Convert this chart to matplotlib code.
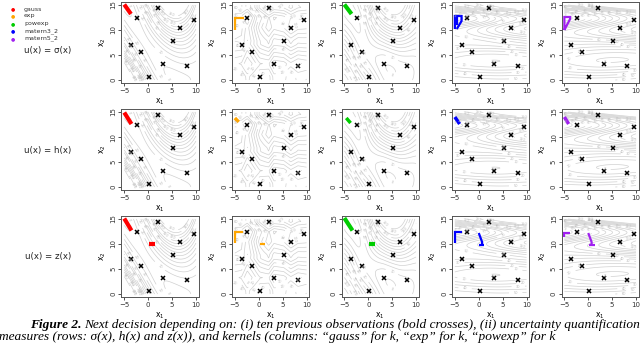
import numpy as np
import matplotlib.pyplot as plt

plt.rcParams.update({'font.family': 'DejaVu Sans',
                     'axes.linewidth': 0.7,
                     'xtick.major.width': 0.6,
                     'ytick.major.width': 0.6})

# ten previous observations (Branin domain) and observed values
obs_x1 = [2.1, -2.4, 9.5, 6.7, 5.25, -3.6, -1.4, 3.2, 8.2, 0.2]
obs_x2 = [14.5, 12.5, 12.0, 10.5, 7.9, 7.1, 5.7, 3.3, 2.9, 0.7]
obs_y = [132.2, 6.7, 89.9, 106.4, 59.7, 41.1, 19.4, 1.6, 8.3, 44.3]

kernels = ['gauss', 'exp', 'powexp', 'matern3_2', 'matern5_2']
kern_colors = ['#ff0000', '#ffa500', '#00cd00', '#0000ff', '#a020f0']
kern_theta = [(8.0, 13.0), (25.0, 30.0), (8.0, 13.0), (40.0, 6.0), (40.0, 6.0)]
contour_levels = np.arange(0, 160, 10)
row_labels = ['u(x) = σ(x)', 'u(x) = h(x)', 'u(x) = z(x)']

# next decisions, one list of strokes (x1 list, x2 list) per kernel
next_sigma = [
    [([-5.0, -3.6], [15.1, 13.2])],
    [([-5.0, -5.0, -3.0], [10.0, 12.5, 12.5]), ([-5.0, -4.9], [15.2, 15.2])],
    [([-5.0, -3.5], [15.1, 13.2])],
    [([-5.0, -5.0, -3.6, -3.6, -4.6], [10.2, 12.8, 12.8, 11.8, 10.2]),
     ([-4.6, -4.6], [11.0, 12.6])],
    [([-5.0, -5.0, -3.8, -3.8, -5.0], [10.0, 12.6, 12.6, 12.2, 10.0])],
]
next_h = [
    [([-5.0, -3.5], [14.9, 12.6])],
    [([-5.0, -4.2], [13.8, 13.0])],
    [([-4.6, -3.7], [13.8, 12.8])],
    [([-5.0, -4.0], [14.0, 12.6])],
    [([-5.0, -4.1], [14.0, 12.6])],
]
next_z = [
    [([-5.0, -3.5], [15.1, 12.7]), ([0.2, 1.4], [10.0, 10.0])],
    [([-5.0, -5.0, -3.2], [10.2, 12.5, 12.5]), ([0.2, 1.4], [10.0, 10.0])],
    [([-5.0, -3.3], [15.2, 12.7]), ([0.2, 1.5], [10.0, 10.0])],
    [([-5.0, -5.0, -3.6], [10.2, 12.4, 12.4]),
     ([0.0, 0.7, 0.7], [12.2, 10.4, 9.9]), ([0.1, 1.1], [9.9, 9.9])],
    [([-5.0, -5.0, -3.8], [11.5, 12.3, 12.3]),
     ([0.0, 0.7, 0.7], [12.2, 10.4, 9.9]), ([0.2, 1.4], [9.9, 9.9])],
]
next_rows = [next_sigma, next_h, next_z]
stroke_lw = [[3.0, 1.6, 3.0, 1.6, 1.6], [3.0, 2.5, 2.5, 2.5, 2.5], [3.0, 1.6, 3.0, 1.6, 1.6]]


def kern(d, name):
    d = np.abs(d)
    if name == 'gauss':
        return np.exp(-0.5 * d ** 2)
    if name == 'exp':
        return np.exp(-d)
    if name == 'powexp':
        return np.exp(-d ** 1.9)
    if name == 'matern3_2':
        s = np.sqrt(3) * d
        return (1 + s) * np.exp(-s)
    s = np.sqrt(5) * d
    return (1 + s + s ** 2 / 3) * np.exp(-s)


def krig_mean(name, theta, g1, g2):
    X = np.column_stack([obs_x1, obs_x2])
    y = np.array(obs_y)

    def corr(a1, a2, b1, b2):
        return (kern((a1[:, None] - b1[None, :]) / theta[0], name) *
                kern((a2[:, None] - b2[None, :]) / theta[1], name))

    K = corr(X[:, 0], X[:, 1], X[:, 0], X[:, 1]) + 1e-6 * np.eye(len(y))
    Ki = np.linalg.inv(K)
    one = np.ones(len(y))
    mu = one @ Ki @ y / (one @ Ki @ one)
    k = corr(g1.ravel(), g2.ravel(), X[:, 0], X[:, 1])
    return (mu + k @ Ki @ (y - mu)).reshape(g1.shape)


g1, g2 = np.meshgrid(np.linspace(-5, 10, 120), np.linspace(0, 15, 120))
means = [krig_mean(n, t, g1, g2) for n, t in zip(kernels, kern_theta)]

W, H = 640, 344
fig = plt.figure(figsize=(W / 100, H / 100), dpi=100)

col_left = [121.4, 232, 341.5, 452, 561.5]
row_top = [2, 109, 216]
bw, bh = 77.4, 81

for r in range(3):
    for c in range(5):
        ax = fig.add_axes([col_left[c] / W, 1 - (row_top[r] + bh) / H, bw / W, bh / H])
        cs = ax.contour(g1, g2, means[c], levels=contour_levels,
                        colors='#d0d0d0', linewidths=0.5)
        ax.clabel(cs, fontsize=2.5, colors='#b8b8b8', inline=True, fmt='%d')
        ax.plot(obs_x1, obs_x2, 'x', color='black', ms=3.0, mew=1.1)
        for xs, ys in next_rows[r][c]:
            ax.plot(xs, ys, color=kern_colors[c], lw=stroke_lw[r][c],
                    solid_capstyle='butt', solid_joinstyle='miter')
        ax.set_xlim(-5.6, 10.6)
        ax.set_ylim(-0.6, 15.6)
        ax.set_xticks([-5, 0, 5, 10])
        ax.set_yticks([0, 5, 10, 15])
        ax.tick_params(labelsize=5, length=2.2, pad=1.2, colors='#333333')
        plt.setp(ax.get_yticklabels(), rotation=90, va='center')
        for s in ax.spines.values():
            s.set_color('#555555')
        ax.set_xlabel('x$_1$', fontsize=5.5, labelpad=2)
        ax.set_ylabel('x$_2$', fontsize=5.5, labelpad=2)

# legend on the left
leg_y = [9, 16, 23.5, 31, 38.5]
for name, col, yy in zip(kernels, kern_colors, leg_y):
    fig.text(13 / W, 1 - yy / H, '●', color=col, fontsize=3.5, ha='center', va='center')
    fig.text(24 / W, 1 - yy / H, name, color='#333333', fontsize=4.5, ha='left', va='center')

for lab, yy in zip(row_labels, [51, 150, 257]):
    fig.text(48 / W, 1 - yy / H, lab, fontsize=6.2, ha='center', va='center', color='#222222')

# caption
serif = ['Liberation Serif', 'DejaVu Serif']
t1 = fig.text(30 / W, 1 - 328 / H, 'Figure 2.', family=serif, style='italic',
              weight='bold', fontsize=9.6, ha='left', va='baseline')
r_ = fig.canvas.get_renderer()
bb = t1.get_window_extent(renderer=r_)
fig.text(bb.x1 / W + 3 / W, 1 - 328 / H,
         'Next decision depending on: (i) ten previous observations (bold crosses), '
         '(ii) uncertainty quantification',
         family=serif, style='italic', fontsize=9.6, ha='left', va='baseline')
fig.text(-1 / W, 1 - 340 / H,
         'measures (rows: σ(x), h(x) and z(x)), and kernels (columns: “gauss” for k, '
         '“exp” for k, “powexp” for k',
         family=serif, style='italic', fontsize=9.6, ha='left', va='baseline')

fig.savefig('out.png', dpi=100)
